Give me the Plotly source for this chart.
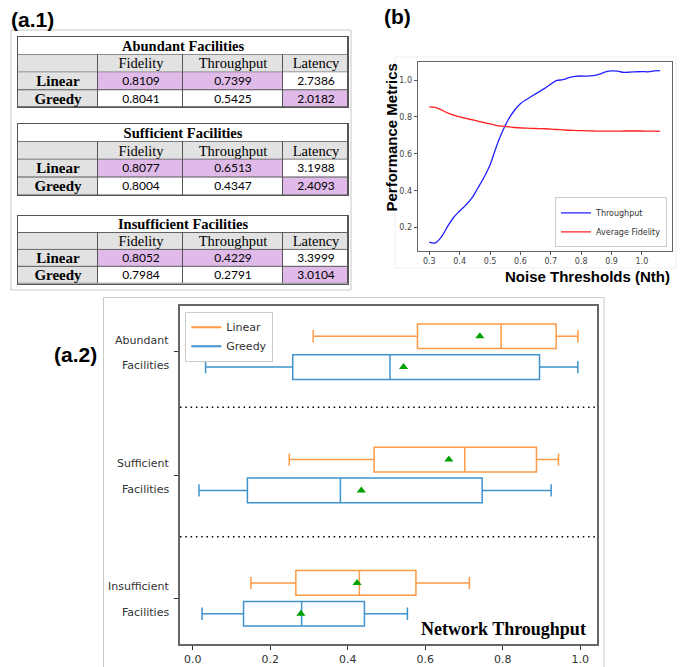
import plotly.graph_objects as go

# ---------------- data ----------------
TABLE_TITLES = ["Abundant Facilities", "Sufficient Facilities", "Insufficient Facilities"]
METRICS = ["Fidelity", "Throughput", "Latency"]
METHODS = ["Linear", "Greedy"]
TBL_FIDELITY = [[0.8109, 0.8041], [0.8077, 0.8004], [0.8052, 0.7984]]
TBL_THROUGHPUT = [[0.7399, 0.5425], [0.6513, 0.4347], [0.4229, 0.2791]]
TBL_LATENCY = [[2.7386, 2.0182], [3.1988, 2.4093], [3.3999, 3.0104]]

NOISE_TH = [0.30, 0.32, 0.34, 0.36, 0.38, 0.40, 0.42, 0.44, 0.46, 0.48, 0.50, 0.52,
            0.54, 0.56, 0.58, 0.60, 0.62, 0.64, 0.66, 0.68, 0.70, 0.72, 0.74, 0.76,
            0.78, 0.80, 0.82, 0.84, 0.86, 0.88, 0.90, 0.92, 0.94, 0.96, 0.98, 1.00,
            1.02, 1.04, 1.06]
THROUGHPUT_CURVE = [0.122, 0.117, 0.150, 0.205, 0.255, 0.290, 0.322, 0.360, 0.415, 0.472,
                    0.540, 0.635, 0.718, 0.785, 0.835, 0.872, 0.895, 0.915, 0.935, 0.955,
                    0.978, 0.998, 1.002, 1.013, 1.020, 1.022, 1.021, 1.024, 1.032, 1.044,
                    1.050, 1.048, 1.042, 1.043, 1.045, 1.046, 1.045, 1.050, 1.051]
FIDELITY_CURVE = [0.855, 0.852, 0.838, 0.822, 0.810, 0.800, 0.793, 0.785, 0.778, 0.770,
                  0.762, 0.755, 0.750, 0.746, 0.743, 0.741, 0.739, 0.738, 0.737, 0.736,
                  0.734, 0.732, 0.730, 0.728, 0.727, 0.726, 0.725, 0.724, 0.723, 0.723,
                  0.723, 0.723, 0.724, 0.724, 0.724, 0.724, 0.723, 0.723, 0.722]

BOX_CATEGORIES = [("Abundant", "Facilities"), ("Sufficient", "Facilities"), ("Insufficient", "Facilities")]
# stats per category: [Linear, Greedy]
BOX_LOWER = [[0.311, 0.033], [0.249, 0.016], [0.150, 0.024]]
BOX_Q1 = [[0.580, 0.258], [0.468, 0.141], [0.266, 0.131]]
BOX_MEDIAN = [[0.796, 0.509], [0.702, 0.381], [0.430, 0.281]]
BOX_Q3 = [[0.938, 0.895], [0.887, 0.747], [0.576, 0.443]]
BOX_UPPER = [[0.994, 0.994], [0.944, 0.925], [0.714, 0.554]]
BOX_MEAN = [[0.741, 0.544], [0.661, 0.435], [0.424, 0.279]]
X_TICKS_A2 = [0.0, 0.2, 0.4, 0.6, 0.8, 1.0]

# ---------------- helpers ----------------
W, H = 689, 667
def px(x):
    return x / W
def py(y):
    return 1 - y / H

SERIF = "Liberation Serif"
SANS = "Liberation Sans"
NUMF = "Lato"
MPL = "DejaVu Sans"
GRAY_FILL = "#e2e2e2"
PURPLE = "#e0bbea"
LINEC = "#555555"
CELL_SCALE = [[0.0, "white"], [0.5, GRAY_FILL], [1.0, PURPLE]]

fig = go.Figure()
layout_axes = {}
shapes = []

# ---------------- (a.1) tables as heatmaps ----------------
tbl_left, tbl_right = 18, 348
col_edges = [0, 80, 165, 265, 330]
tops = [37, 124, 216]
row_h = [17.6, 17.75, 16.9]
for t in range(3):
    top, rh = tops[t], row_h[t]
    ax = str(3 + t)
    xa, ya = "x" + ax, "y" + ax
    common = dict(colorscale=CELL_SCALE, zmin=0, zmax=2, showscale=False, xgap=1, ygap=1,
                  hoverinfo="skip", xaxis=xa, yaxis=ya, texttemplate="%{text}")
    # title row
    fig.add_trace(go.Heatmap(x=[col_edges[0], col_edges[-1]], y=[3, 4], z=[[0]],
                             text=[[TABLE_TITLES[t]]],
                             textfont=dict(family=SERIF, size=14.5, color="black", weight="bold"),
                             **common))
    # header row
    fig.add_trace(go.Heatmap(x=col_edges, y=[2, 3], z=[[1, 1, 1, 1]],
                             text=[[""] + METRICS],
                             textfont=dict(family=SERIF, size=14.5, color="black"),
                             **common))
    # row labels (bottom row = Greedy, upper row = Linear)
    fig.add_trace(go.Heatmap(x=col_edges[:2], y=[0, 1, 2], z=[[1], [1]],
                             text=[[METHODS[1]], [METHODS[0]]],
                             textfont=dict(family=SERIF, size=15, color="black", weight="bold"),
                             **common))
    fid, thr, lat = TBL_FIDELITY[t], TBL_THROUGHPUT[t], TBL_LATENCY[t]
    best = [fid.index(max(fid)), thr.index(max(thr)), lat.index(min(lat))]
    cols = [fid, thr, lat]
    z_rows, txt_rows = [], []
    for r in [1, 0]:
        z_rows.append([2 if best[c] == r else 0 for c in range(3)])
        txt_rows.append(["%.4f" % cols[c][r] for c in range(3)])
    fig.add_trace(go.Heatmap(x=col_edges[1:], y=[0, 1, 2], z=z_rows, text=txt_rows,
                             textfont=dict(family=NUMF, size=12, color="black"),
                             **common))
    axis_style = dict(showticklabels=False, ticks="", showgrid=False, zeroline=False,
                      showline=True, mirror=True, linecolor=LINEC, linewidth=1, fixedrange=True)
    layout_axes["xaxis" + ax] = dict(domain=[px(tbl_left), px(tbl_right)],
                                     range=[col_edges[0], col_edges[-1]], anchor=ya, **axis_style)
    layout_axes["yaxis" + ax] = dict(domain=[py(top + 4 * rh), py(top)], range=[0, 4],
                                     anchor=xa, **axis_style)
    shapes.append(dict(type="rect", xref=xa + " domain", yref=ya + " domain", x0=0, x1=1, y0=0, y1=1,
                       fillcolor=LINEC, line=dict(width=0), layer="below"))

# ---------------- (b) line chart ----------------
fig.add_trace(go.Scatter(x=NOISE_TH, y=THROUGHPUT_CURVE, mode="lines", name="Throughput",
                         line=dict(color="#2020ff", width=1.3, shape="spline"),
                         xaxis="x", yaxis="y", legend="legend"))
fig.add_trace(go.Scatter(x=NOISE_TH, y=FIDELITY_CURVE, mode="lines", name="Average Fidelity",
                         line=dict(color="#ff2020", width=1.3, shape="spline"),
                         xaxis="x", yaxis="y", legend="legend"))

# ---------------- (a.2) box plot ----------------
ORANGE = "#ff9a45"
BLUE = "#3f93cc"
cat_pos = [3, 2, 1]
offsets = [0.125, -0.125]
colors = [ORANGE, BLUE]
for c in range(3):
    for m in range(2):
        yp = cat_pos[c] + offsets[m]
        fig.add_trace(go.Box(
            orientation="h", y=[yp],
            q1=[BOX_Q1[c][m]], median=[BOX_MEDIAN[c][m]], q3=[BOX_Q3[c][m]],
            lowerfence=[BOX_LOWER[c][m]], upperfence=[BOX_UPPER[c][m]],
            width=0.2, whiskerwidth=0.5, boxpoints=False,
            line=dict(color=colors[m], width=1.5), fillcolor="rgba(0,0,0,0)",
            showlegend=False, xaxis="x2", yaxis="y2", hoverinfo="skip"))
        fig.add_trace(go.Scatter(
            x=[BOX_MEAN[c][m]], y=[yp], mode="markers",
            marker=dict(symbol="triangle-up", size=8, color="#00a000"),
            showlegend=False, xaxis="x2", yaxis="y2"))
for m in range(2):
    fig.add_trace(go.Scatter(x=[None], y=[None], mode="lines", name=METHODS[m],
                             line=dict(color=colors[m], width=2),
                             xaxis="x2", yaxis="y2", legend="legend2"))

annotations = []
for c in range(3):
    annotations.append(dict(xref="paper", yref="y2", x=px(171), y=cat_pos[c] + 0.092,
                            text=BOX_CATEGORIES[c][0], showarrow=False, xanchor="right",
                            yanchor="middle", font=dict(family=MPL, size=11, color="#333")))
    annotations.append(dict(xref="paper", yref="y2", x=px(171), y=cat_pos[c] - 0.115,
                            text=BOX_CATEGORIES[c][1], showarrow=False, xanchor="right",
                            yanchor="middle", font=dict(family=MPL, size=11, color="#333")))

annotations += [
    dict(xref="paper", yref="paper", x=px(9), y=py(19), text="<b>(a.1)</b>", showarrow=False,
         xanchor="left", yanchor="middle", font=dict(family=SANS, size=21, color="black")),
    dict(xref="paper", yref="paper", x=px(382), y=py(16.5), text="<b>(b)</b>", showarrow=False,
         xanchor="left", yanchor="middle", font=dict(family=SANS, size=21, color="black")),
    dict(xref="paper", yref="paper", x=px(99), y=py(354), text="<b>(a.2)</b>", showarrow=False,
         xanchor="right", yanchor="middle", font=dict(family=SANS, size=21, color="black")),
    dict(xref="paper", yref="paper", x=px(391), y=py(137.5), text="<b>Performance Metrics</b>",
         showarrow=False, textangle=-90, xanchor="center", yanchor="middle",
         font=dict(family=SANS, size=15, color="black")),
    dict(xref="paper", yref="paper", x=px(587), y=py(276.7), text="<b>Noise Thresholds (Nth)</b>",
         showarrow=False, xanchor="center", yanchor="middle",
         font=dict(family=SANS, size=15, color="black")),
    dict(xref="paper", yref="paper", x=px(503.7), y=py(629.3), text="<b>Network Throughput</b>",
         showarrow=False, xanchor="center", yanchor="middle",
         font=dict(family=SERIF, size=18, color="black")),
]

shapes += [
    # panel frames
    dict(type="rect", xref="paper", yref="paper", x0=px(11), x1=px(351), y0=py(290), y1=py(30),
         line=dict(color="#c8c8c8", width=1), layer="below"),
    dict(type="rect", xref="paper", yref="paper", x0=px(395), x1=px(676), y0=py(268), y1=py(57),
         line=dict(color="#eeeeee", width=1), layer="below"),
    dict(type="rect", xref="paper", yref="paper", x0=px(103.5), x1=px(604), y0=py(672), y1=py(297.5),
         line=dict(color="#c8c8c8", width=1), layer="below"),
    # dotted separators
    dict(type="line", xref="x2 domain", yref="y2", x0=0, x1=1, y0=2.55, y1=2.55,
         line=dict(color="black", width=1.5, dash="1.5px,3.8px")),
    dict(type="line", xref="x2 domain", yref="y2", x0=0, x1=1, y0=1.5, y1=1.5,
         line=dict(color="black", width=1.5, dash="1.5px,3.8px")),
]

fig.update_layout(
    width=W, height=H, margin=dict(l=0, r=0, t=0, b=0),
    paper_bgcolor="white", plot_bgcolor="white",
    boxmode="overlay",
    xaxis=dict(domain=[px(417.7), px(671.7)], range=[0.262, 1.098], anchor="y",
               tickvals=[0.3, 0.4, 0.5, 0.6, 0.7, 0.8, 0.9, 1.0], tickformat=".1f",
               ticks="outside", ticklen=3, tickcolor="#555", showgrid=False, zeroline=False,
               showline=True, linecolor="#666", linewidth=1.2, mirror=True,
               tickfont=dict(family=MPL, size=8, color="#444")),
    yaxis=dict(domain=[py(250.7), py(62)], range=[0.075, 1.098], anchor="x",
               tickvals=[0.2, 0.4, 0.6, 0.8, 1.0], tickformat=".1f",
               ticks="outside", ticklen=3, tickcolor="#555", showgrid=False, zeroline=False,
               showline=True, linecolor="#666", linewidth=1.2, mirror=True,
               tickfont=dict(family=MPL, size=8, color="#444")),
    xaxis2=dict(domain=[px(180), px(596.7)], range=[-0.033, 1.0426], anchor="y2",
                tickvals=X_TICKS_A2, tickformat=".1f",
                ticks="outside", ticklen=4, tickcolor="#333", showgrid=False, zeroline=False,
                showline=True, linecolor="#666", linewidth=1.5, mirror=True,
                tickfont=dict(family=MPL, size=11, color="#333")),
    yaxis2=dict(domain=[py(644.3), py(305.7)], range=[0.627, 3.373], anchor="x2",
                tickvals=cat_pos, showticklabels=False,
                ticks="outside", ticklen=4, tickcolor="#333", showgrid=False, zeroline=False,
                showline=True, linecolor="#666", linewidth=1.5, mirror=True),
    legend=dict(x=px(667), y=py(247.3), xanchor="right", yanchor="bottom",
                bgcolor="white", bordercolor="#cccccc", borderwidth=1,
                font=dict(family=MPL, size=8, color="#333"), tracegroupgap=0),
    legend2=dict(x=px(185.3), y=py(311.7), xanchor="left", yanchor="top",
                 bgcolor="white", bordercolor="#cccccc", borderwidth=1,
                 font=dict(family=MPL, size=11, color="#333"), tracegroupgap=0),
    annotations=annotations,
    shapes=shapes,
    **layout_axes,
)

fig.write_html("out.html", config={"displayModeBar": False},
               post_script="document.body.style.margin='0px';")
